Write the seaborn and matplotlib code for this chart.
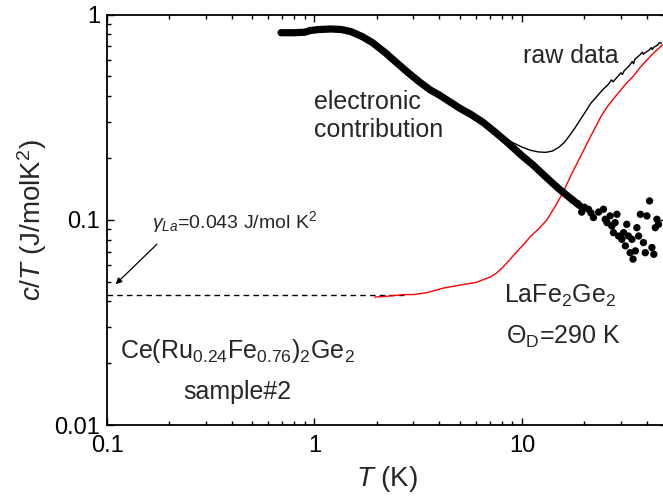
import numpy as np
import pandas as pd
import matplotlib
matplotlib.use("Agg")
import matplotlib.pyplot as plt
import seaborn as sns

# ---------------- data ----------------
T_el = [0.69, 0.8, 0.9, 0.95, 1.05, 1.2, 1.35, 1.5, 1.7, 1.9, 2.2, 2.5, 2.8, 3.2,
        3.6, 4.0, 4.5, 5.0, 5.7, 6.5, 7.5, 8.5, 10.0, 11.3, 13.0, 15.0, 17.0, 19.0]
C_el = [0.815, 0.815, 0.82, 0.835, 0.845, 0.85, 0.845, 0.825, 0.78, 0.73, 0.65, 0.58,
        0.525, 0.47, 0.43, 0.405, 0.375, 0.35, 0.325, 0.298, 0.265, 0.238, 0.205,
        0.185, 0.162, 0.142, 0.128, 0.117]

T_sc = [17.5, 18.5, 19.4, 20.0, 20.9, 21.5, 22.1, 23.4, 24.7, 25.2, 25.7, 26.6, 27.1,
        27.6, 28.1, 28.7, 29.2, 30.3, 30.9, 31.5, 32.0, 32.6, 33.2, 33.9, 34.3, 35.2,
        35.8, 36.5, 37.2, 38.5, 39.3, 40.0, 41.2, 42.3, 43.2, 43.9, 44.7, 45.5]
C_sc = [0.125, 0.12, 0.109, 0.115, 0.1125, 0.108, 0.1025, 0.109, 0.1125, 0.1005,
        0.0968, 0.1044, 0.0932, 0.0865, 0.0968, 0.1063, 0.0833, 0.0803, 0.0865, 0.0746,
        0.095, 0.0833, 0.0691, 0.0803, 0.0643, 0.0705, 0.0915, 0.0833, 0.1063, 0.0774,
        0.0691, 0.1044, 0.1235, 0.0732, 0.0679, 0.0915, 0.1005, 0.095]

T_raw = [6.0, 7.0, 8.0, 9.0, 10.0, 11.0, 12.0, 13.0, 14.0, 15.0, 16.0, 17.0, 18.0,
         19.0, 20.0, 21.5, 23.0, 24.5, 26.0, 27.0, 27.5, 29.0, 30.0, 30.5, 31.0, 33.0,
         34.0, 34.5, 35.0, 37.0, 38.0, 38.5, 39.0, 41.0, 42.0, 42.5, 43.0, 45.0, 46.0, 47.0]
C_raw = [0.31, 0.28, 0.255, 0.238, 0.226, 0.218, 0.214, 0.213, 0.216, 0.225, 0.238,
         0.258, 0.28, 0.305, 0.33, 0.37, 0.40, 0.43, 0.455, 0.48, 0.47, 0.50, 0.52,
         0.51, 0.53, 0.565, 0.59, 0.575, 0.605, 0.635, 0.655, 0.64, 0.65, 0.67, 0.69,
         0.675, 0.69, 0.71, 0.73, 0.725]

T_ph = [1.95, 2.3, 2.7, 3.0, 3.5, 4.2, 5.0, 6.0, 7.0, 7.5, 8.0, 8.5, 9.4, 10.2, 11.0,
        12.0, 13.2, 14.5, 15.8, 16.5, 17.5, 18.5, 19.6, 21.0, 22.5, 24.0, 25.8, 28.0,
        30.0, 32.0, 34.4, 37.0, 40.0, 42.5, 45.0, 47.5, 50.0]
C_ph = [0.042, 0.0425, 0.0432, 0.0432, 0.0442, 0.0465, 0.048, 0.0495, 0.0525, 0.0548,
        0.058, 0.062, 0.0695, 0.076, 0.083, 0.090, 0.100, 0.117, 0.136, 0.150, 0.17,
        0.19, 0.213, 0.245, 0.28, 0.318, 0.356, 0.395, 0.43, 0.465, 0.50, 0.55, 0.60,
        0.64, 0.675, 0.71, 0.74]

T_gamma = [0.1, 2.7]
C_gamma = [0.043, 0.043]

x_ticks = [0.1, 1, 10]
x_ticklabels = ["0.1", "1", "10"]
y_ticks = [0.01, 0.1, 1]
y_ticklabels = ["0.01", "0.1", "1"]

# ---------------- style ----------------
sns.set_theme(style="ticks")
plt.rcParams["font.family"] = ["Liberation Sans", "DejaVu Sans"]
plt.rcParams["mathtext.fontset"] = "custom"
plt.rcParams["mathtext.rm"] = "Liberation Sans"
plt.rcParams["mathtext.it"] = "Liberation Sans:italic"
plt.rcParams["mathtext.bf"] = "Liberation Sans:bold"

fig = plt.figure(figsize=(6.63, 4.99), dpi=100)
ax = fig.add_axes([107 / 663, 1 - 425 / 499, 560 / 663, (425 - 14.5) / 499])

df_el = pd.DataFrame({"T": T_el, "C": C_el})
df_sc = pd.DataFrame({"T": T_sc, "C": C_sc})
df_raw = pd.DataFrame({"T": T_raw, "C": C_raw})
df_ph = pd.DataFrame({"T": T_ph, "C": C_ph})
df_g = pd.DataFrame({"T": T_gamma, "C": C_gamma})

sns.lineplot(data=df_g, x="T", y="C", ax=ax, color="black", lw=1.0,
             linestyle=(0, (4, 3)), sort=False, estimator=None)
sns.lineplot(data=df_ph, x="T", y="C", ax=ax, color="red", lw=1.0,
             sort=False, estimator=None)
sns.lineplot(data=df_raw, x="T", y="C", ax=ax, color="black", lw=1.0,
             sort=False, estimator=None)
sns.lineplot(data=df_el, x="T", y="C", ax=ax, color="black", lw=5.2,
             sort=False, estimator=None)
ax.lines[-1].set_solid_capstyle("round")
ax.lines[-1].set_solid_joinstyle("round")
sns.scatterplot(data=df_sc, x="T", y="C", ax=ax, color="black", s=28,
                edgecolor="none", linewidth=0)

ax.set_xscale("log")
ax.set_yscale("log")
ax.set_xlim(0.1, 50)
ax.set_ylim(0.01, 1)
ax.set_xticks(x_ticks)
ax.set_xticklabels(x_ticklabels)
ax.set_yticks(y_ticks)
ax.set_yticklabels(y_ticklabels)

for s in ax.spines.values():
    s.set_visible(True)
    s.set_linewidth(1.3)
    s.set_color("black")
ax.tick_params(which="both", direction="in", top=True, right=True,
               colors="black", labelsize=17, width=1.0)
ax.tick_params(axis="x", which="both", pad=7)
ax.tick_params(axis="y", which="both", pad=5)
ax.tick_params(which="major", length=5)
ax.tick_params(which="minor", length=3)
ax.grid(False)

ax.set_xlabel(r"$T$ (K)", fontsize=20, labelpad=5)
ax.set_ylabel(r"$c/T$ (J/molK$^2$)", fontsize=20, labelpad=4)

# ---------------- annotations ----------------
ax.text(17.1, 0.63, "raw data", fontsize=18, ha="center", va="center")
ax.text(0.99, 0.32, "electronic\ncontribution", fontsize=18, ha="left",
        va="center", linespacing=1.25)
ax.text(15.3, 0.0425, r"LaFe$_2$Ge$_2$", fontsize=18, ha="center", va="center")
ax.text(15.8, 0.0268, r"$\Theta_\mathrm{D}$=290 K", fontsize=18, ha="center",
        va="center")
ax.text(0.425, 0.0229, r"Ce(Ru$_{0.24}$Fe$_{0.76}$)$_2$Ge$_2$", fontsize=18,
        ha="center", va="center")
ax.text(0.425, 0.0145, "sample#2", fontsize=18, ha="center", va="center")
ax.annotate(r"$\gamma_{La}$=0.043 J/mol K$^2$", xy=(0.11, 0.0485),
            xytext=(0.165, 0.0975), textcoords="data", fontsize=14,
            ha="left", va="center")
ax.annotate("", xy=(0.11, 0.0485), xytext=(0.174, 0.076),
            arrowprops=dict(arrowstyle="-|>", color="black", lw=0.9,
                            mutation_scale=9, shrinkA=0, shrinkB=0))

fig.savefig("out.png", dpi=100)
